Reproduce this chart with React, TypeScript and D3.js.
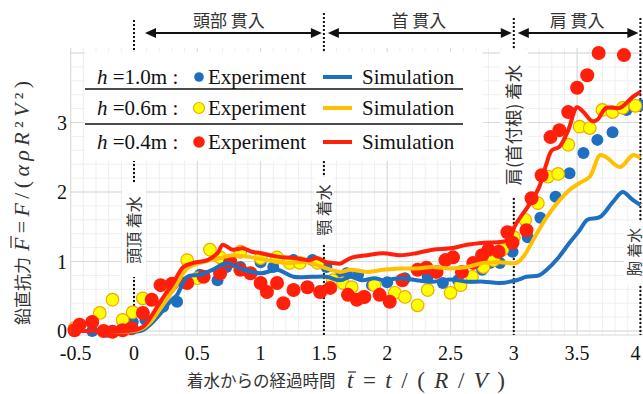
import React from 'react';
import * as d3 from 'd3';

// Experiment points [t̄, F̄] for each drop height
const expH10: [number, number][] = [
  [-0.33, 0.0], [-0.21, -0.01], [-0.09, 0.04], [-0.01, 0.13], [0.09, 0.16], [0.23, 0.35],
  [0.34, 0.42], [0.39, 0.69], [0.52, 0.81], [0.66, 0.73], [0.73, 0.92], [0.84, 0.92],
  [1.0, 0.99], [1.1, 0.92], [1.26, 1.02], [1.41, 1.02], [1.52, 0.92], [1.63, 0.78],
  [1.68, 0.83], [1.77, 0.81], [1.88, 0.66], [2.0, 0.7], [2.14, 0.76], [2.32, 0.78],
  [2.44, 0.69], [2.56, 0.73], [2.75, 0.88], [2.81, 0.98], [2.89, 0.98], [2.99, 1.14],
  [3.11, 1.35], [3.21, 1.63], [3.33, 1.93], [3.44, 2.27], [3.55, 2.56], [3.66, 2.75],
  [3.78, 2.86], [3.89, 3.18], [4.0, 3.25],
];
const expH06: [number, number][] = [
  [-0.47, 0.04], [-0.27, 0.26], [-0.17, 0.45], [-0.09, 0.16], [-0.01, 0.27], [0.07, 0.47],
  [0.28, 0.63], [0.42, 1.02], [0.5, 0.76], [0.6, 1.17], [0.68, 1.06], [0.84, 1.14],
  [1.0, 1.05], [1.13, 1.06], [1.23, 0.98], [1.31, 0.98], [1.45, 0.98], [1.57, 0.73],
  [1.65, 0.69], [1.72, 0.63], [1.81, 0.49], [1.9, 0.66], [2.06, 0.55], [2.14, 0.49],
  [2.24, 0.37], [2.32, 0.59], [2.5, 0.55], [2.58, 0.66], [2.67, 0.78], [2.76, 0.92],
  [2.84, 1.02], [2.91, 1.17], [3.0, 1.35], [3.09, 1.6], [3.19, 1.84], [3.27, 2.22],
  [3.35, 2.26], [3.43, 2.68], [3.52, 2.94], [3.6, 2.92], [3.7, 3.18], [3.78, 3.15],
  [3.86, 3.21], [3.96, 3.24],
];
const expH04: [number, number][] = [
  [-0.47, 0.01], [-0.43, 0.09], [-0.33, 0.13], [-0.24, 0.0], [-0.17, -0.01], [-0.09, 0.01],
  [-0.02, 0.04], [0.07, 0.26], [0.14, 0.45], [0.21, 0.66], [0.3, 0.68], [0.42, 0.69],
  [0.55, 0.78], [0.68, 0.83], [0.76, 1.0], [0.84, 0.88], [0.92, 0.83], [1.0, 0.69],
  [1.05, 0.56], [1.13, 0.69], [1.18, 0.4], [1.26, 0.59], [1.37, 0.63], [1.47, 0.56],
  [1.55, 0.62], [1.69, 0.52], [1.76, 0.45], [1.82, 0.49], [1.94, 0.52], [2.02, 0.42],
  [2.12, 0.73], [2.24, 0.88], [2.31, 0.91], [2.39, 0.85], [2.46, 1.02], [2.52, 1.06],
  [2.59, 0.85], [2.68, 0.98], [2.75, 1.09], [2.8, 1.17], [2.88, 1.14], [2.95, 1.42],
  [2.99, 1.27], [3.1, 1.45], [3.14, 1.91], [3.22, 2.24], [3.29, 2.79], [3.36, 2.89],
  [3.43, 3.15], [3.5, 3.5], [3.58, 3.68], [3.67, 4.0], [3.87, 3.97],
];

// Simulation curves [t̄, F̄]
const simH10: [number, number][] = [
  [-0.5, 0], [-0.2, 0], [0.05, 0], [0.1, 0.05], [0.16, 0.15], [0.2, 0.23], [0.3, 0.45],
  [0.34, 0.52], [0.42, 0.78], [0.52, 0.81], [0.62, 0.88], [0.73, 0.98], [0.84, 0.9],
  [1.0, 0.83], [1.13, 0.88], [1.26, 0.78], [1.41, 0.78], [1.52, 0.78], [1.63, 0.73],
  [1.71, 0.78], [1.8, 0.73], [1.9, 0.76], [1.97, 0.73], [2.1, 0.76], [2.23, 0.73],
  [2.36, 0.71], [2.5, 0.74], [2.63, 0.71], [2.76, 0.71], [2.89, 0.69], [3.02, 0.73],
  [3.1, 0.78], [3.2, 0.8], [3.26, 0.88], [3.35, 1.05], [3.44, 1.27], [3.52, 1.45],
  [3.58, 1.6], [3.68, 1.64], [3.78, 1.85], [3.86, 2.0], [3.93, 1.9], [4.0, 1.81],
];
const simH06: [number, number][] = [
  [-0.5, 0], [-0.2, 0], [0.0, 0], [0.07, 0.04], [0.14, 0.15], [0.2, 0.3], [0.31, 0.59],
  [0.42, 0.9], [0.52, 0.98], [0.68, 1.05], [0.78, 1.09], [0.89, 1.07], [1.05, 1.02],
  [1.2, 0.98], [1.37, 0.99], [1.52, 0.9], [1.63, 0.85], [1.71, 0.88], [1.84, 0.85],
  [1.97, 0.88], [2.1, 0.9], [2.23, 0.9], [2.36, 0.92], [2.5, 0.9], [2.63, 0.92],
  [2.76, 0.98], [2.89, 0.99], [3.02, 0.98], [3.08, 1.08], [3.15, 1.3], [3.26, 1.64],
  [3.36, 1.88], [3.44, 2.03], [3.52, 2.13], [3.6, 2.22], [3.68, 2.53], [3.73, 2.5],
  [3.84, 2.36], [3.94, 2.53], [4.0, 2.49],
];
const simH04: [number, number][] = [
  [-0.5, 0], [-0.2, 0], [0.0, 0.01], [0.07, 0.06], [0.14, 0.22], [0.2, 0.4], [0.26, 0.56],
  [0.31, 0.69], [0.39, 0.92], [0.47, 0.98], [0.58, 1.02], [0.66, 1.12], [0.7, 1.24],
  [0.78, 1.17], [0.86, 1.19], [0.93, 1.14], [1.0, 1.12], [1.13, 1.07], [1.26, 1.05],
  [1.39, 1.02], [1.44, 1.05], [1.52, 0.99], [1.57, 0.98], [1.63, 0.97], [1.71, 1.05],
  [1.84, 1.09], [1.97, 1.12], [2.1, 1.09], [2.23, 1.12], [2.36, 1.17], [2.5, 1.19],
  [2.63, 1.24], [2.76, 1.27], [2.89, 1.28], [2.95, 1.31], [3.02, 1.55], [3.13, 1.84],
  [3.2, 2.07], [3.26, 2.42], [3.3, 2.6], [3.36, 2.65], [3.43, 2.89], [3.5, 3.22],
  [3.55, 3.15], [3.62, 3.02], [3.66, 3.04], [3.73, 3.21], [3.84, 3.21], [3.94, 3.37],
  [4.0, 3.44],
];

const xTicks = [-0.5, 0, 0.5, 1, 1.5, 2, 2.5, 3, 3.5, 4];
const xTickLabels = ['-0.5', '0', '0.5', '1', '1.5', '2', '2.5', '3', '3.5', '4'];
const yTicks = [0, 1, 2, 3];
const yTickLabels = ['0', '1', '2', '3'];

// Event times (dotted markers) and phase spans
const eventTimes = [0, 1.5, 3, 4];
const phaseSpans: [number, number, string][] = [
  [0, 1.5, '頭部 貫入'],
  [1.5, 3, '首 貫入'],
  [3, 4, '肩 貫入'],
];
const heightLabels = ['=1.0m :', '=0.6m :', '=0.4m :'];

const W = 643;
const H = 394;
const SERIF = "'Liberation Serif', 'Times New Roman', serif";
const JP = "'Noto Sans CJK JP', 'Noto Sans', sans-serif";

const BLUE = '#1f6fc0';
const GOLD = '#ffc000';
const RED = '#ff1f0a';
const YELLOW = '#ffff00';

export default function App() {
  const x = d3.scaleLinear().domain([-0.5, 4]).range([70.7, 640.4]);
  const y = d3.scaleLinear().domain([0, 4]).range([331, 53]);
  const plot = { left: 70, top: 48, right: 643, bottom: 335 };

  const minorX = d3.range(-0.5, 4.001, 0.1);
  const minorY = d3.range(0, 4.07, 0.2);
  const majorX = d3.range(-0.5, 4.001, 0.5);
  const majorY = d3.range(0, 4.01, 1);

  const line = d3
    .line<[number, number]>()
    .x((d) => x(d[0]))
    .y((d) => y(d[1]))
    .curve(d3.curveCatmullRom.alpha(0.5));

  const arrowHead = (tipX: number, yy: number, dir: number) =>
    `M${tipX},${yy} L${tipX - dir * 11},${yy - 5} L${tipX - dir * 11},${yy + 5} Z`;

  const dotted = { stroke: '#111', strokeWidth: 2, strokeDasharray: '2 2' };

  return (
    <svg
      width={W}
      height={H}
      viewBox={`0 0 ${W} ${H}`}
      style={{ position: 'absolute', left: 0, top: 0, background: '#fff' }}
    >
      <rect x={0} y={0} width={W} height={H} fill="#fff" />

      {/* grid */}
      <g>
        {minorX.map((v, i) => (
          <line key={'mx' + i} x1={x(v)} x2={x(v)} y1={plot.top} y2={plot.bottom} stroke="#efefef" strokeWidth={1} />
        ))}
        {minorY.map((v, i) => (
          <line key={'my' + i} x1={plot.left} x2={plot.right} y1={y(v)} y2={y(v)} stroke="#efefef" strokeWidth={1} />
        ))}
        {majorX.map((v, i) => (
          <line key={'Mx' + i} x1={x(v)} x2={x(v)} y1={plot.top} y2={plot.bottom} stroke="#d9d9d9" strokeWidth={1} />
        ))}
        {majorY.map((v, i) => (
          <line key={'My' + i} x1={plot.left} x2={plot.right} y1={y(v)} y2={y(v)} stroke="#d9d9d9" strokeWidth={1} />
        ))}
        <line x1={plot.left} x2={plot.right} y1={plot.bottom} y2={plot.bottom} stroke="#d9d9d9" />
      </g>

      {/* event markers */}
      {eventTimes.map((t, i) => (
        <line key={'ev' + i} x1={x(t)} x2={x(t)} y1={i === 1 ? 13 : i === 0 ? 20 : 18} y2={plot.bottom} {...dotted} />
      ))}

      {/* phase arrows */}
      {phaseSpans.map(([a, b, label], i) => {
        const x1 = x(a) + (i === 0 ? 11 : 4);
        const x2 = x(b) - 2;
        const cy = 33;
        return (
          <g key={'ph' + i}>
            <line x1={x1 + 6} x2={x2 - 6} y1={cy} y2={cy} stroke="#111" strokeWidth={2} />
            <path d={arrowHead(x1, cy, -1)} fill="#111" />
            <path d={arrowHead(x2, cy, 1)} fill="#111" />
            <text x={(x(a) + x(b)) / 2} y={27} textAnchor="middle" fontFamily={JP} fontSize={17} fill="#333">
              {label}
            </text>
          </g>
        );
      })}

      {/* vertical event labels */}
      <rect x={122} y={183} width={24} height={94} fill="#fff" />
      <text transform={`translate(${x(0) + 6},${230}) rotate(-90)`} textAnchor="middle" fontFamily={JP} fontSize={16} fill="#333">
        頭頂 着水
      </text>
      <rect x={314} y={177} width={20} height={67} fill="#fff" />
      <text transform={`translate(${x(1.5) + 6},${210}) rotate(-90)`} textAnchor="middle" fontFamily={JP} fontSize={16} fill="#333">
        顎 着水
      </text>
      <rect x={500} y={50} width={28} height={147} fill="#fff" />
      <text transform={`translate(${x(3) + 6},${125}) rotate(-90)`} textAnchor="middle" fontFamily={JP} fontSize={17.5} fill="#333">
        肩(首付根) 着水
      </text>
      <rect x={624} y={222} width={19} height={63} fill="#fff" />
      <text transform={`translate(${x(4)},${252}) rotate(-90)`} textAnchor="middle" fontFamily={JP} fontSize={15} fill="#333">
        胸 着水
      </text>

      {/* legend */}
      <rect x={85} y={52} width={398} height={109} fill="#fff" />
      {heightLabels.map((lab, i) => {
        const cy = [77, 108, 142][i];
        const col = [BLUE, GOLD, RED][i];
        return (
          <g key={'lg' + i} fontFamily={SERIF} fontSize={21} fill="#111">
            <text x={97} y={cy + 7}>
              <tspan fontStyle="italic">h</tspan>
              <tspan> {lab}</tspan>
            </text>
            {i === 0 && <circle cx={199} cy={cy} r={4.8} fill={BLUE} />}
            {i === 1 && <circle cx={199} cy={cy} r={5.5} fill={YELLOW} stroke="#f0a800" strokeWidth={1.2} />}
            {i === 2 && <circle cx={199} cy={cy} r={5.8} fill={RED} />}
            <text x={208} y={cy + 7}>Experiment</text>
            <line x1={323} x2={352} y1={cy} y2={cy} stroke={col} strokeWidth={4} />
            <text x={362} y={cy + 7}>Simulation</text>
          </g>
        );
      })}
      <line x1={85} x2={463} y1={89} y2={89} stroke="#111" strokeWidth={1.5} />
      <line x1={85} x2={463} y1={124} y2={124} stroke="#111" strokeWidth={1.5} />

      {/* experiment points */}
      <g>
        {expH10.map((d, i) => (
          <circle key={'b' + i} cx={x(d[0])} cy={y(d[1])} r={6} fill={BLUE} />
        ))}
        {expH06.map((d, i) => (
          <circle key={'yl' + i} cx={x(d[0])} cy={y(d[1])} r={6.3} fill={YELLOW} stroke="#f0a800" strokeWidth={1.2} />
        ))}
        {expH04.map((d, i) => (
          <circle key={'r' + i} cx={x(d[0])} cy={y(d[1])} r={7} fill={RED} />
        ))}
      </g>

      {/* simulation curves */}
      <path d={line(simH10) ?? ''} fill="none" stroke={BLUE} strokeWidth={4} strokeLinejoin="round" />
      <path d={line(simH06) ?? ''} fill="none" stroke={GOLD} strokeWidth={4} strokeLinejoin="round" />
      <path d={line(simH04) ?? ''} fill="none" stroke={RED} strokeWidth={4} strokeLinejoin="round" />

      {/* axis tick labels */}
      {xTicks.map((t, i) => (
        <text
          key={'xt' + i}
          x={x(t) + (i === 0 ? 5 : i === xTicks.length - 1 ? -5 : 0)}
          y={360}
          textAnchor="middle"
          fontFamily={SERIF}
          fontSize={20}
          fill="#111"
        >
          {xTickLabels[i]}
        </text>
      ))}
      {yTicks.map((v, i) => (
        <text key={'yt' + i} x={67} y={y(v) + 7} textAnchor="end" fontFamily={SERIF} fontSize={20} fill="#111">
          {yTickLabels[i]}
        </text>
      ))}

      {/* axis titles */}
      <g transform="translate(29,325) rotate(-90)">
        <text x={0} y={0} fontFamily={JP} fontSize={17} fill="#333">
          鉛直抗力
        </text>
        <text x={74} y={0} fontFamily={SERIF} fontSize={22} fill="#333" textLength={170} lengthAdjust="spacing">
          <tspan fontStyle="italic">F</tspan>
          <tspan>=</tspan>
          <tspan fontStyle="italic">F</tspan>
          <tspan>/(</tspan>
          <tspan fontStyle="italic">αρR</tspan>
          <tspan>²</tspan>
          <tspan fontStyle="italic">V</tspan>
          <tspan>²)</tspan>
        </text>
        <line x1={77} x2={89} y1={-18} y2={-18} stroke="#5a4a42" strokeWidth={1.4} />
      </g>
      <text x={187} y={387} fontFamily={JP} fontSize={16.5} fill="#333">
        着水からの経過時間
      </text>
      <text x={347} y={388} fontFamily={SERIF} fontSize={23} fill="#333" textLength={158} lengthAdjust="spacing">
        <tspan fontStyle="italic">t</tspan>
        <tspan>=</tspan>
        <tspan fontStyle="italic">t</tspan>
        <tspan>/(</tspan>
        <tspan fontStyle="italic">R</tspan>
        <tspan>/</tspan>
        <tspan fontStyle="italic">V</tspan>
        <tspan>)</tspan>
      </text>
      <line x1={348} x2={356} y1={372} y2={372} stroke="#5a4a42" strokeWidth={1.4} />
    </svg>
  );
}
